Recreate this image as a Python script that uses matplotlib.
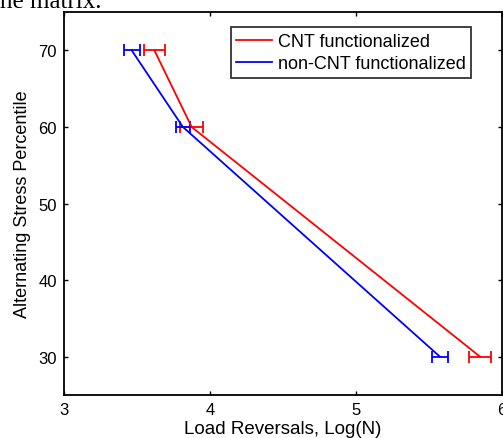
import matplotlib
matplotlib.use("Agg")
import matplotlib.pyplot as plt
from matplotlib.lines import Line2D

# ── data ───────────────────────────────────────────────────────────────────
stress_pct = [70, 60, 30]

cnt_logn = [3.62, 3.875, 5.85]
cnt_err = [0.07, 0.08, 0.075]

noncnt_logn = [3.465, 3.815, 5.575]
noncnt_err = [0.055, 0.05, 0.055]

labels = ["CNT functionalized", "non-CNT functionalized"]
colors = ["#ff0000", "#0000ff"]
x_ticks = [3, 4, 5, 6]
y_ticks = [30, 40, 50, 60, 70]

plt.rcParams["font.family"] = ["Liberation Sans", "DejaVu Sans"]

fig = plt.figure(figsize=(5.03, 4.39), dpi=100)
ax = fig.add_axes([0.127, 0.098, 0.871, 0.872])

for xs, errs, c in [(cnt_logn, cnt_err, colors[0]),
                    (noncnt_logn, noncnt_err, colors[1])]:
    ax.errorbar(xs, stress_pct, xerr=errs, color=c, lw=1.3,
                capsize=4, capthick=1.3, elinewidth=1.3)

ax.set_xlim(3, 6)
ax.set_ylim(25, 75)
ax.set_xticks(x_ticks)
ax.set_yticks(y_ticks)
ax.tick_params(direction="in", top=True, right=True, length=3, width=1,
               labelsize=12, pad=5)
for s in ax.spines.values():
    s.set_linewidth(1.3)

ax.set_xlabel("Load Reversals, Log(N)", fontsize=13.5, labelpad=2)
ax.set_ylabel("Alternating Stress Percentile", fontsize=13, labelpad=5)

# legend uses plain line handles, no error-bar markers
handles = [Line2D([], [], color=c, lw=1.3) for c in colors]
leg = ax.legend(handles, labels, loc="upper right",
                bbox_to_anchor=(0.929, 0.96),
                fontsize=13, frameon=True, fancybox=False,
                handlelength=2.0, handletextpad=0.3, borderpad=0.3,
                labelspacing=0.3, borderaxespad=0)
leg.get_frame().set_edgecolor("black")
leg.get_frame().set_linewidth(1.3)

# clipped line of surrounding document text at the very top
fig.text(-0.014, 0.982, "the matrix.", family="Liberation Serif",
         fontsize=18, va="baseline", ha="left")

fig.savefig("out.png", dpi=100)
